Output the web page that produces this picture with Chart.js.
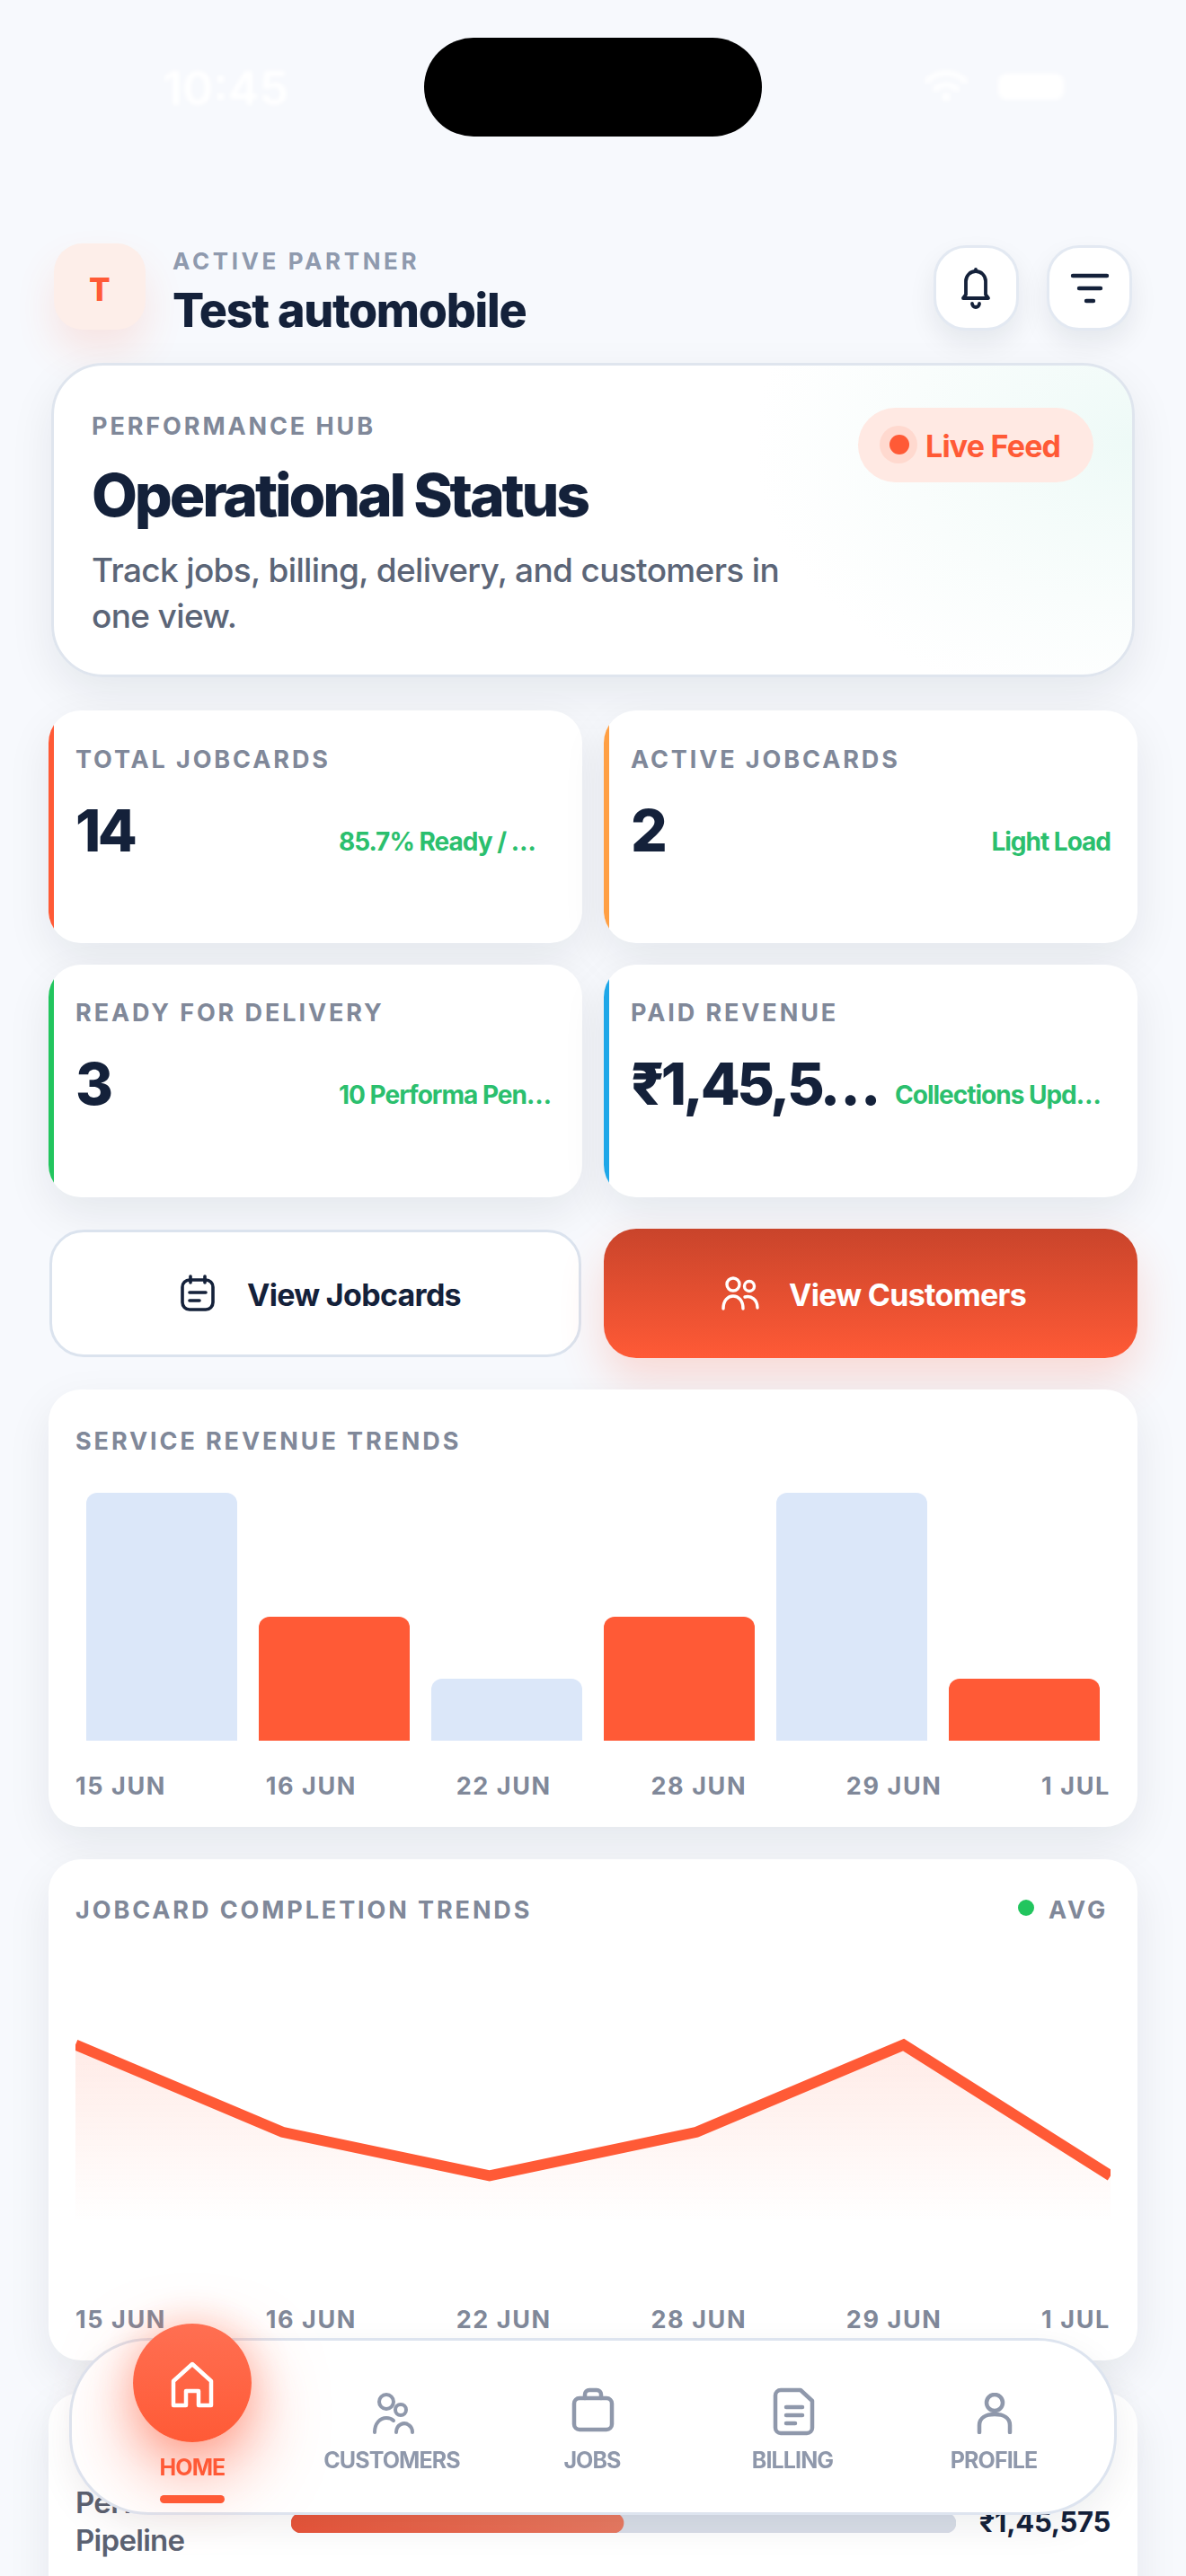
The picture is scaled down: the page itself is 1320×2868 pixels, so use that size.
<!DOCTYPE html>
<html>
<head>
<meta charset="utf-8">
<title>Operational Status</title>
<script src="https://cdn.jsdelivr.net/npm/chart.js"></script>
<style>
html, body { margin: 0; padding: 0; }
body { position: relative; width: 1320px; height: 2868px; overflow: hidden; background: #f7f9fd; font-family: Inter, "Noto Sans", sans-serif; color: #14213a; }
.t { position: absolute; white-space: nowrap; line-height: 1; }
.box { position: absolute; box-sizing: border-box; }
.card { background: #fff; border-radius: 36px; box-shadow: 0 18px 50px rgba(15,23,42,.08); overflow: hidden; }
.strip { position: absolute; left: 0; top: 0; bottom: 0; width: 6px; }
.label { font-size: 27px; font-weight: 700; letter-spacing: 2.9px; color: #808899; }
.value { font-size: 64px; font-weight: 800; letter-spacing: -3.5px; }
.sub { font-size: 28px; font-weight: 700; letter-spacing: -1px; color: #2bbf6e; }
.btn-text { font-size: 34px; font-weight: 700; letter-spacing: -.7px; }
.x-labels { position: absolute; left: 84px; width: 1152px; display: flex; justify-content: space-between; font-size: 27px; font-weight: 700; letter-spacing: 1.6px; line-height: 1; color: #808899; }
canvas { position: absolute; display: block; }
.nav-label { position: absolute; width: 220px; text-align: center; font-size: 25px; font-weight: 700; letter-spacing: -.9px; line-height: 1; color: #8f98ab; }
svg { position: absolute; fill: none; stroke-linecap: round; stroke-linejoin: round; }
</style>
</head>
<body>

<!-- status bar -->
<div class="t" style="left:181px;top:73px;font-size:52px;font-weight:600;color:#fff;filter:blur(2px)">10:45</div>
<div class="box" style="left:472px;top:42px;width:376px;height:110px;border-radius:55px;background:#000"></div>
<svg style="left:1028px;top:76px;filter:blur(2.5px)" width="50" height="40" viewBox="0 0 50 40" stroke="#fff" stroke-width="6"><path d="M4 14a30 30 0 0 1 42 0M13 23a18 18 0 0 1 24 0"/><circle cx="25" cy="32" r="2"/></svg>
<div class="box" style="left:1111px;top:82px;width:73px;height:29px;border-radius:9px;background:#fff;filter:blur(2.5px)"></div>

<!-- header -->
<div class="box" style="left:60px;top:271px;width:102px;height:96px;border-radius:32px;background:#fdeee9;box-shadow:0 24px 44px rgba(255,90,54,.13)"></div>
<div class="t" style="left:99px;top:305px;font-size:35px;font-weight:800;color:#ff5a36">T</div>
<div class="t" style="left:192px;top:278px;font-size:26px;font-weight:700;letter-spacing:3.6px;color:#8f9aae">ACTIVE PARTNER</div>
<div class="t" style="left:192px;top:320px;font-size:52px;font-weight:800;letter-spacing:-1.3px">Test automobile</div>

<div class="box" style="left:1039px;top:273px;width:95px;height:95px;border-radius:36px;background:#fff;border:3px solid #e3e9f2;box-shadow:0 14px 30px rgba(15,23,42,.08)"></div>
<svg style="left:1066px;top:298px" width="40" height="46" viewBox="0 0 40 46" stroke="#14213a" stroke-width="3.8"><path d="M9 30V15a11 11 0 0 1 22 0v15l3 4H6zM20 2v2M16 40a4 4 0 0 0 8 0"/></svg>
<div class="box" style="left:1165px;top:273px;width:95px;height:95px;border-radius:36px;background:#fff;border:3px solid #e3e9f2;box-shadow:0 14px 30px rgba(15,23,42,.08)"></div>
<svg style="left:1191px;top:302px" width="44" height="38" viewBox="0 0 44 38" stroke="#14213a" stroke-width="4.4"><path d="M3 5h38M10 19h24M18 33h8"/></svg>

<!-- hero -->
<div class="box" style="left:57px;top:404px;width:1206px;height:350px;border-radius:58px;border:3px solid #dfe5ee;background:radial-gradient(ellipse 420px 300px at 100% 25%, #eefaf7 0, #f9fdfc 60%, #fff 100%);box-shadow:0 18px 50px rgba(15,23,42,.08)"></div>
<div class="t label" style="left:102px;top:461px">PERFORMANCE HUB</div>
<div class="t" style="left:102px;top:518px;font-size:66px;font-weight:800;letter-spacing:-3.2px">Operational Status</div>
<div class="t" style="left:102px;top:609px;font-size:37px;line-height:51px;font-weight:500;letter-spacing:-.65px;color:#5b6577">Track jobs, billing, delivery, and customers in<br>one view.</div>
<div class="box" style="left:955px;top:454px;width:262px;height:83px;border-radius:42px;background:#ffe9e3"></div>
<div class="box" style="left:979px;top:474px;width:42px;height:42px;border-radius:50%;background:#ffd9cf"></div>
<div class="box" style="left:990px;top:484px;width:22px;height:22px;border-radius:50%;background:#ff5a36"></div>
<div class="t" style="left:1030px;top:480px;font-size:34px;font-weight:700;letter-spacing:-.8px;color:#ff5a36">Live Feed</div>

<!-- stat cards -->
<div class="box card" style="left:54px;top:791px;width:594px;height:259px"><i class="strip" style="background:#ff5a36"></i></div>
<div class="t label" style="left:84px;top:832px">TOTAL JOBCARDS</div>
<div class="t value" style="left:84px;top:893px">14</div>
<div class="t sub" style="left:377px;top:923px">85.7% Ready / …</div>

<div class="box card" style="left:672px;top:791px;width:594px;height:259px"><i class="strip" style="background:#ff9f43"></i></div>
<div class="t label" style="left:702px;top:832px">ACTIVE JOBCARDS</div>
<div class="t value" style="left:702px;top:893px">2</div>
<div class="t sub" style="right:84px;top:923px">Light Load</div>

<div class="box card" style="left:54px;top:1074px;width:594px;height:259px"><i class="strip" style="background:#22c55e"></i></div>
<div class="t label" style="left:84px;top:1114px">READY FOR DELIVERY</div>
<div class="t value" style="left:84px;top:1175px">3</div>
<div class="t sub" style="left:377px;top:1205px">10 Performa Pen…</div>

<div class="box card" style="left:672px;top:1074px;width:594px;height:259px"><i class="strip" style="background:#1ea7e8"></i></div>
<div class="t label" style="left:702px;top:1114px">PAID REVENUE</div>
<div class="t value" style="left:702px;top:1175px">₹1,45,5…</div>
<div class="t sub" style="left:996px;top:1205px">Collections Upd…</div>

<!-- action buttons -->
<div class="box" style="left:55px;top:1369px;width:592px;height:142px;border-radius:38px;background:#fff;border:3px solid #dbe3ee"></div>
<svg style="left:200px;top:1419px" width="40" height="42" viewBox="0 0 40 42" stroke="#14213a" stroke-width="3.6"><rect x="3" y="6" width="34" height="33" rx="8"/><path d="M12 2v7M28 2v7M11 20h18M11 29h11"/></svg>
<div class="t btn-text" style="left:275px;top:1425px">View Jobcards</div>
<div class="box" style="left:672px;top:1368px;width:594px;height:144px;border-radius:36px;background:linear-gradient(180deg,#c9442b,#ff5a36);box-shadow:0 24px 50px rgba(255,90,54,.2)"></div>
<svg style="left:802px;top:1420px" width="44" height="40" viewBox="0 0 44 40" stroke="#fff" stroke-width="3.4"><circle cx="14" cy="10" r="7"/><circle cx="32" cy="12" r="5.5"/><path d="M3 37c0-9 5-14 11-14s11 5 11 14M27 24c7-2 14 3 14 12"/></svg>
<div class="t btn-text" style="left:878px;top:1425px;color:#fff">View Customers</div>

<!-- revenue chart -->
<div class="box card" style="left:54px;top:1547px;width:1212px;height:487px"></div>
<div class="t label" style="left:84px;top:1591px">SERVICE REVENUE TRENDS</div>
<canvas id="revenue-chart" style="left:84px;top:1662px" width="1152" height="276"></canvas>
<div class="x-labels" id="revenue-labels" style="top:1975px"></div>

<!-- completion chart -->
<div class="box card" style="left:54px;top:2070px;width:1212px;height:558px"></div>
<div class="t label" style="left:84px;top:2113px">JOBCARD COMPLETION TRENDS</div>
<div class="box" style="left:1133px;top:2115px;width:18px;height:18px;border-radius:50%;background:#22c55e"></div>
<div class="t label" style="left:1167px;top:2113px">AVG</div>
<canvas id="completion-chart" style="left:84px;top:2228px" width="1152" height="243"></canvas>
<div class="x-labels" id="completion-labels" style="top:2569px"></div>

<!-- pipeline card, mostly behind the nav -->
<div class="box card" style="left:54px;top:2664px;width:1212px;height:300px"></div>
<div class="t" style="left:84px;top:2765px;font-size:33px;line-height:42px;font-weight:600;letter-spacing:-.7px;color:#5b6272">Performa<br>Pipeline</div>
<canvas id="pipeline-chart" style="left:324px;top:2798px" width="740" height="22"></canvas>
<div class="t" style="right:84px;top:2792px;font-size:31px;font-weight:700;letter-spacing:-.3px">₹1,45,575</div>

<!-- bottom nav -->
<div class="box" style="left:77px;top:2603px;width:1166px;height:197px;border-radius:88px;background:#fff;border:3px solid #dde4ef;box-shadow:0 14px 40px rgba(15,23,42,.07)"></div>
<div class="box" style="left:148px;top:2587px;width:132px;height:132px;border-radius:50%;background:linear-gradient(180deg,#ff6f52,#ff5a36);box-shadow:0 34px 80px rgba(255,90,54,.55),0 0 44px rgba(255,90,54,.3)"></div>
<svg style="left:188px;top:2628px" width="52" height="54" viewBox="0 0 52 54" stroke="#fff" stroke-width="4.5"><path d="M5 23 26 4l21 19v27H33V34H19v16H5z"/></svg>
<div class="nav-label" style="left:104px;top:2735px;color:#ff5a36">HOME</div>
<div class="box" style="left:178px;top:2778px;width:72px;height:9px;border-radius:5px;background:#ff5a36"></div>
<svg style="left:414px;top:2664px" width="48" height="46" viewBox="0 0 48 46" stroke="#8f98ab" stroke-width="4"><circle cx="16" cy="10" r="8"/><circle cx="32" cy="19" r="6"/><path d="M3 44c0-10 6-16 13-16 3 0 6 1 8 3M27 44c0-9 9-12 14-8 3 2 4 5 4 8"/></svg>
<div class="nav-label" style="left:326px;top:2727px">CUSTOMERS</div>
<svg style="left:636px;top:2658px" width="48" height="50" viewBox="0 0 48 50" stroke="#8f98ab" stroke-width="4.5"><rect x="3" y="12" width="42" height="35" rx="6"/><path d="M15 12V8a5 5 0 0 1 5-5h8a5 5 0 0 1 5 5v4"/></svg>
<div class="nav-label" style="left:549px;top:2727px">JOBS</div>
<svg style="left:860px;top:2658px" width="48" height="54" viewBox="0 0 48 54" stroke="#8f98ab" stroke-width="4.5"><path d="M9 3h22l13 12v30a6 6 0 0 1-6 6H9a6 6 0 0 1-6-6V9a6 6 0 0 1 6-6z"/><path d="M15 22h18M15 31h18M15 40h10"/></svg>
<div class="nav-label" style="left:772px;top:2727px">BILLING</div>
<svg style="left:1087px;top:2664px" width="40" height="46" viewBox="0 0 40 46" stroke="#8f98ab" stroke-width="4.5"><circle cx="20" cy="11" r="9"/><path d="M3 44V36c0-8 7-12 17-12s17 4 17 12v8"/></svg>
<div class="nav-label" style="left:996px;top:2727px">PROFILE</div>

<script>
const categories = ['15 JUN', '16 JUN', '22 JUN', '28 JUN', '29 JUN', '1 JUL'];
const revenueValues = [4, 2, 1, 2, 4, 1];
const completionValues = [4, 2, 1, 2, 4, 1];
const pipelineCategory = ['Performa Pipeline'];
const pipelineFilled = [50];
const pipelineTrack = [100];

// labels sit in a space-between row, not under the bars
function fillLabels(id) {
    document.getElementById(id).innerHTML = categories.map(c => `<span>${c}</span>`).join('');
}
fillLabels('revenue-labels');
fillLabels('completion-labels');

const hiddenAxis = (min, max) => ({ display: false, min: min, max: max });
const baseOptions = {
    responsive: false,
    animation: false,
    plugins: { legend: { display: false }, tooltip: { enabled: false } },
    layout: { padding: 0 }
};

new Chart(document.getElementById('revenue-chart'), {
    type: 'bar',
    data: {
        labels: categories,
        datasets: [{
            data: revenueValues,
            backgroundColor: ctx => ctx.dataIndex % 2 ? '#ff5a36' : '#dbe7f9',
            borderRadius: { topLeft: 12, topRight: 12, bottomLeft: 0, bottomRight: 0 },
            barPercentage: 0.875,
            categoryPercentage: 1
        }]
    },
    options: { ...baseOptions, scales: { x: { display: false }, y: hiddenAxis(0, 4) } }
});

new Chart(document.getElementById('completion-chart'), {
    type: 'line',
    data: {
        labels: categories,
        datasets: [{
            data: completionValues,
            borderColor: '#ff5a36',
            borderWidth: 12,
            borderJoinStyle: 'miter',
            tension: 0,
            pointRadius: 0,
            fill: 'origin',
            backgroundColor: ctx => {
                const area = ctx.chart.chartArea;
                if (!area) return 'transparent';
                const g = ctx.chart.ctx.createLinearGradient(0, area.top + 48, 0, area.bottom + 6);
                g.addColorStop(0, 'rgba(255,90,54,.12)');
                g.addColorStop(1, 'rgba(255,90,54,0)');
                return g;
            }
        }]
    },
    options: { ...baseOptions, scales: { x: { display: false, offset: false }, y: hiddenAxis(0, 5) } }
});

new Chart(document.getElementById('pipeline-chart'), {
    type: 'bar',
    data: {
        labels: pipelineCategory,
        datasets: [{
            data: pipelineFilled,
            order: 1,
            borderRadius: 11,
            borderSkipped: false,
            backgroundColor: ctx => {
                const g = ctx.chart.ctx.createLinearGradient(0, 0, 370, 0);
                g.addColorStop(0, '#e9553a');
                g.addColorStop(1, '#e97a62');
                return g;
            }
        }, {
            data: pipelineTrack,
            order: 2,
            borderRadius: 11,
            borderSkipped: false,
            backgroundColor: '#d9dee8'
        }]
    },
    options: {
        ...baseOptions,
        indexAxis: 'y',
        datasets: { bar: { grouped: false, barPercentage: 1, categoryPercentage: 1 } },
        scales: { x: hiddenAxis(0, 100), y: { display: false } }
    }
});
</script>
</body>
</html>
